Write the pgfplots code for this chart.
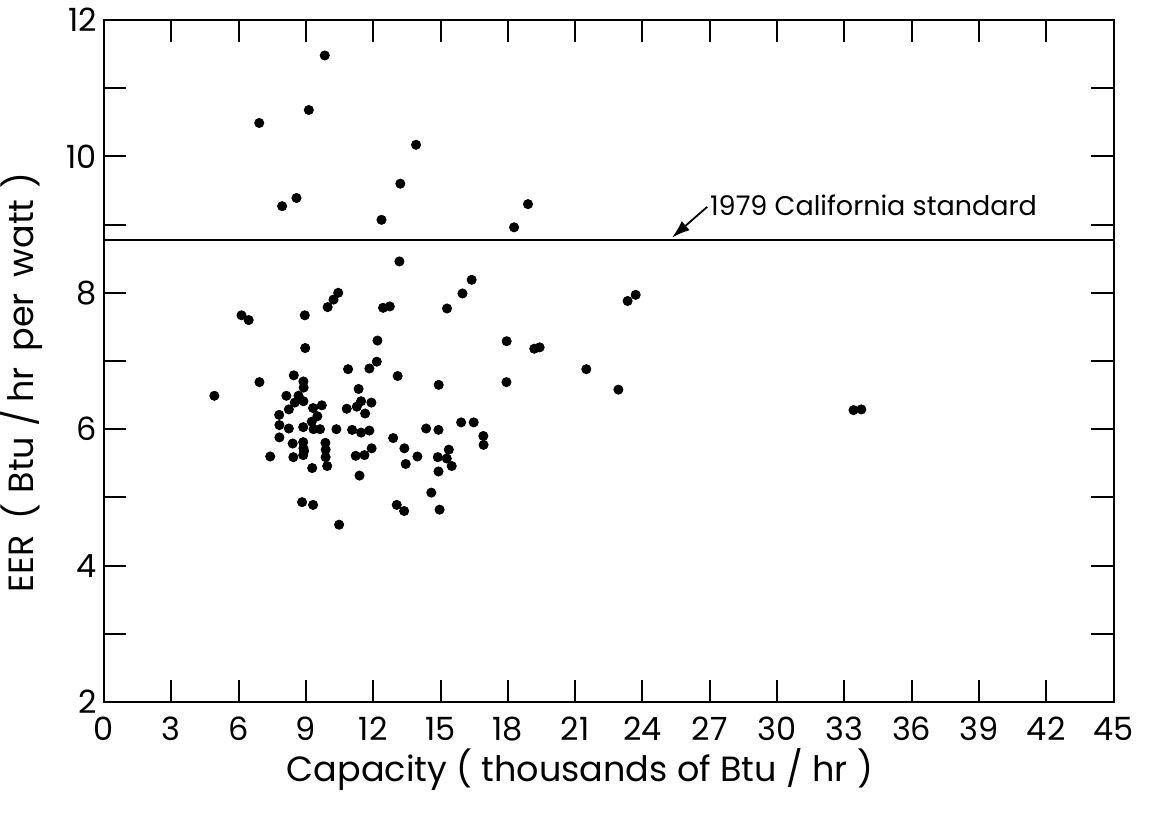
\documentclass[border=0pt]{standalone}
\usepackage{fontspec}
\setmainfont{Poppins}
\usepackage{pgfplots}
\usepackage{pgfplotstable}
\pgfplotsset{compat=1.18}
\usetikzlibrary{arrows.meta}

\pgfplotstableread{
x y
9.84 11.48
9.13 10.68
6.92 10.49
13.91 10.17
13.21 9.60
7.94 9.27
8.58 9.39
12.37 9.07
18.28 8.96
18.90 9.30
13.17 8.46
16.39 8.19
15.98 7.99
15.29 7.77
12.44 7.78
12.74 7.80
6.13 7.67
6.45 7.60
8.95 7.67
9.97 7.79
10.23 7.90
10.44 8.00
8.97 7.19
12.19 7.30
12.16 6.99
11.83 6.89
10.88 6.88
13.09 6.78
8.46 6.79
6.93 6.69
4.92 6.49
8.89 6.70
8.90 6.61
11.35 6.59
8.13 6.49
8.67 6.49
8.50 6.39
8.89 6.41
9.32 6.31
9.71 6.35
8.24 6.29
11.46 6.41
11.92 6.39
11.27 6.33
10.82 6.30
11.64 6.23
7.81 6.21
9.51 6.19
9.26 6.11
7.82 6.06
8.24 6.01
8.88 6.03
9.34 6.00
9.63 6.00
10.36 6.00
11.06 5.99
11.46 5.95
11.83 5.98
12.89 5.87
7.82 5.88
8.41 5.79
8.88 5.81
9.87 5.80
11.93 5.72
8.89 5.72
8.92 5.68
9.88 5.70
8.88 5.62
9.88 5.59
7.41 5.60
8.44 5.59
11.22 5.61
11.61 5.62
9.95 5.46
9.28 5.43
11.39 5.32
8.83 4.93
9.32 4.89
13.05 4.89
10.48 4.60
13.38 4.80
14.96 4.82
14.59 5.07
14.91 5.38
15.50 5.46
14.88 5.59
15.28 5.57
15.37 5.70
13.45 5.49
13.97 5.60
13.39 5.72
14.36 6.01
14.91 5.99
15.92 6.10
16.48 6.10
16.91 5.90
16.92 5.77
14.92 6.65
17.95 7.29
17.94 6.69
19.18 7.18
19.42 7.20
21.50 6.88
22.93 6.58
23.34 7.88
23.70 7.97
33.41 6.28
33.76 6.29
}\eerdata

\begin{document}
\begin{tikzpicture}
\begin{axis}[
  name=ax,
  at={(0,0)}, anchor=south west,
  scale only axis,
  width=504.75pt, height=341pt,
  xmin=0, xmax=45, ymin=2, ymax=12,
  xtick={0,3,...,45},
  ytick={2,3,...,12},
  yticklabels={2,,4,,6,,8,,10,,12},
  tick align=inside,
  tick pos=both,
  major tick length=11pt,
  tick style={line width=1pt, black},
  axis line style={line width=1pt},
  /pgf/number format/assume math mode=true,
  ticklabel style={font=\fontsize{16pt}{19pt}\selectfont},
  xticklabel style={yshift=-4pt},
  xlabel={Capacity ( thousands of Btu / hr )},
  ylabel={EER\hspace{0.45em}(\hspace{0.3em}Btu\hspace{0.3em}/\hspace{0.2em}hr\hspace{0.45em}per\hspace{0.45em}watt\hspace{0.3em})},
  label style={font=\fontsize{17.5pt}{21pt}\selectfont},
  xlabel style={at={(axis description cs:0.4715,-0.1173)}, anchor=base},
  ylabel style={at={(axis description cs:-0.0703,0.468)}, anchor=base},
  clip=false,
]
\addplot[black, line width=1pt] coordinates {(0,8.78) (45,8.78)};
\addplot[only marks, mark=*, mark size=2.3pt, black] table[x=x, y=y] {\eerdata};
\draw[-{Latex[length=9pt,width=6pt]}, line width=0.9pt] (axis cs:26.89,9.26) -- (axis cs:25.32,8.81);
\node[anchor=base west, inner sep=0pt, font=\fontsize{13.5pt}{16pt}\selectfont] at (axis cs:27.0,9.14) {1979 California standard};
\end{axis}
\pgfresetboundingbox
\path ([shift={(-52pt,-55.5pt)}]ax.south west) rectangle ([shift={(18.75pt,10pt)}]ax.north east);
\end{tikzpicture}
\end{document}
